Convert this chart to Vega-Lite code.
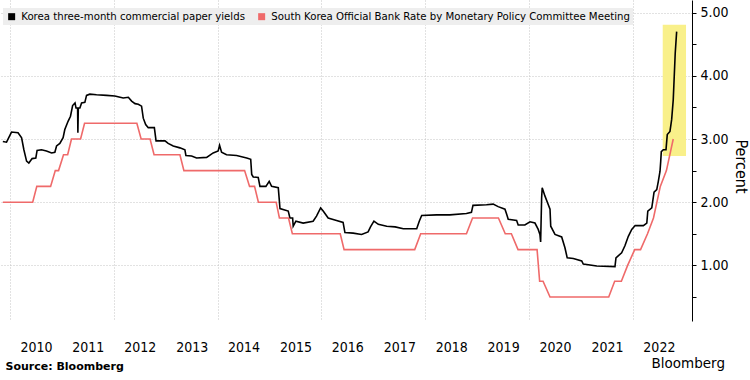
{
  "$schema": "https://vega.github.io/schema/vega-lite/v6.json",
  "width": 692,
  "height": 321,
  "autosize": {"type": "none"},
  "padding": {"left": 0, "top": 0, "right": 58, "bottom": 59},
  "background": "white",
  "config": {
    "view": {"stroke": null},
    "font": "DejaVu Sans Condensed"
  },
  "title": {
    "text": "Bloomberg",
    "orient": "bottom",
    "anchor": "end",
    "frame": "group",
    "dx": 33,
    "offset": -14,
    "font": "DejaVu Sans",
    "fontSize": 13.5,
    "fontWeight": "normal",
    "color": "#000000"
  },
  "resolve": {"axis": {"y": "independent"}},
  "datasets": {
    "highlight": [
      {"start": "2022-07-30", "end": "2023-01-10", "low": 2.73, "high": 4.81}
    ],
    "rates": [
      {"date": "2009-11-12", "value": 2.96, "series": "Korea three-month commercial paper yields"},
      {"date": "2009-12-08", "value": 2.95, "series": "Korea three-month commercial paper yields"},
      {"date": "2010-01-12", "value": 3.11, "series": "Korea three-month commercial paper yields"},
      {"date": "2010-02-27", "value": 3.10, "series": "Korea three-month commercial paper yields"},
      {"date": "2010-03-24", "value": 3.02, "series": "Korea three-month commercial paper yields"},
      {"date": "2010-04-09", "value": 2.83, "series": "Korea three-month commercial paper yields"},
      {"date": "2010-04-28", "value": 2.65, "series": "Korea three-month commercial paper yields"},
      {"date": "2010-05-14", "value": 2.62, "series": "Korea three-month commercial paper yields"},
      {"date": "2010-06-06", "value": 2.69, "series": "Korea three-month commercial paper yields"},
      {"date": "2010-07-02", "value": 2.70, "series": "Korea three-month commercial paper yields"},
      {"date": "2010-07-11", "value": 2.82, "series": "Korea three-month commercial paper yields"},
      {"date": "2010-08-11", "value": 2.83, "series": "Korea three-month commercial paper yields"},
      {"date": "2010-09-15", "value": 2.81, "series": "Korea three-month commercial paper yields"},
      {"date": "2010-10-21", "value": 2.78, "series": "Korea three-month commercial paper yields"},
      {"date": "2010-11-13", "value": 2.79, "series": "Korea three-month commercial paper yields"},
      {"date": "2010-11-25", "value": 2.89, "series": "Korea three-month commercial paper yields"},
      {"date": "2010-12-18", "value": 2.93, "series": "Korea three-month commercial paper yields"},
      {"date": "2011-01-10", "value": 3.02, "series": "Korea three-month commercial paper yields"},
      {"date": "2011-01-22", "value": 3.15, "series": "Korea three-month commercial paper yields"},
      {"date": "2011-02-14", "value": 3.28, "series": "Korea three-month commercial paper yields"},
      {"date": "2011-03-03", "value": 3.36, "series": "Korea three-month commercial paper yields"},
      {"date": "2011-03-18", "value": 3.53, "series": "Korea three-month commercial paper yields"},
      {"date": "2011-04-04", "value": 3.57, "series": "Korea three-month commercial paper yields"},
      {"date": "2011-04-11", "value": 3.49, "series": "Korea three-month commercial paper yields"},
      {"date": "2011-04-22", "value": 3.49, "series": "Korea three-month commercial paper yields"},
      {"date": "2011-04-24", "value": 3.10, "series": "Korea three-month commercial paper yields"},
      {"date": "2011-04-27", "value": 3.49, "series": "Korea three-month commercial paper yields"},
      {"date": "2011-05-08", "value": 3.49, "series": "Korea three-month commercial paper yields"},
      {"date": "2011-05-20", "value": 3.57, "series": "Korea three-month commercial paper yields"},
      {"date": "2011-06-12", "value": 3.58, "series": "Korea three-month commercial paper yields"},
      {"date": "2011-06-24", "value": 3.69, "series": "Korea three-month commercial paper yields"},
      {"date": "2011-07-17", "value": 3.71, "series": "Korea three-month commercial paper yields"},
      {"date": "2011-09-02", "value": 3.70, "series": "Korea three-month commercial paper yields"},
      {"date": "2011-11-12", "value": 3.69, "series": "Korea three-month commercial paper yields"},
      {"date": "2012-01-09", "value": 3.68, "series": "Korea three-month commercial paper yields"},
      {"date": "2012-03-08", "value": 3.65, "series": "Korea three-month commercial paper yields"},
      {"date": "2012-04-13", "value": 3.66, "series": "Korea three-month commercial paper yields"},
      {"date": "2012-05-06", "value": 3.60, "series": "Korea three-month commercial paper yields"},
      {"date": "2012-05-30", "value": 3.56, "series": "Korea three-month commercial paper yields"},
      {"date": "2012-06-22", "value": 3.55, "series": "Korea three-month commercial paper yields"},
      {"date": "2012-07-15", "value": 3.52, "series": "Korea three-month commercial paper yields"},
      {"date": "2012-07-27", "value": 3.33, "series": "Korea three-month commercial paper yields"},
      {"date": "2012-08-13", "value": 3.23, "series": "Korea three-month commercial paper yields"},
      {"date": "2012-08-31", "value": 3.18, "series": "Korea three-month commercial paper yields"},
      {"date": "2012-10-13", "value": 3.18, "series": "Korea three-month commercial paper yields"},
      {"date": "2012-10-25", "value": 2.97, "series": "Korea three-month commercial paper yields"},
      {"date": "2012-12-27", "value": 2.97, "series": "Korea three-month commercial paper yields"},
      {"date": "2013-01-18", "value": 2.93, "series": "Korea three-month commercial paper yields"},
      {"date": "2013-02-23", "value": 2.89, "series": "Korea three-month commercial paper yields"},
      {"date": "2013-04-11", "value": 2.86, "series": "Korea three-month commercial paper yields"},
      {"date": "2013-05-16", "value": 2.83, "series": "Korea three-month commercial paper yields"},
      {"date": "2013-05-23", "value": 2.74, "series": "Korea three-month commercial paper yields"},
      {"date": "2013-07-02", "value": 2.73, "series": "Korea three-month commercial paper yields"},
      {"date": "2013-08-06", "value": 2.70, "series": "Korea three-month commercial paper yields"},
      {"date": "2013-10-16", "value": 2.71, "series": "Korea three-month commercial paper yields"},
      {"date": "2013-12-01", "value": 2.78, "series": "Korea three-month commercial paper yields"},
      {"date": "2014-01-05", "value": 2.81, "series": "Korea three-month commercial paper yields"},
      {"date": "2014-01-15", "value": 2.90, "series": "Korea three-month commercial paper yields"},
      {"date": "2014-01-29", "value": 2.79, "series": "Korea three-month commercial paper yields"},
      {"date": "2014-03-05", "value": 2.75, "series": "Korea three-month commercial paper yields"},
      {"date": "2014-05-15", "value": 2.74, "series": "Korea three-month commercial paper yields"},
      {"date": "2014-07-25", "value": 2.70, "series": "Korea three-month commercial paper yields"},
      {"date": "2014-08-22", "value": 2.68, "series": "Korea three-month commercial paper yields"},
      {"date": "2014-08-29", "value": 2.44, "series": "Korea three-month commercial paper yields"},
      {"date": "2014-09-09", "value": 2.40, "series": "Korea three-month commercial paper yields"},
      {"date": "2014-10-14", "value": 2.39, "series": "Korea three-month commercial paper yields"},
      {"date": "2014-10-26", "value": 2.25, "series": "Korea three-month commercial paper yields"},
      {"date": "2014-12-07", "value": 2.25, "series": "Korea three-month commercial paper yields"},
      {"date": "2014-12-30", "value": 2.33, "series": "Korea three-month commercial paper yields"},
      {"date": "2015-01-16", "value": 2.25, "series": "Korea three-month commercial paper yields"},
      {"date": "2015-03-04", "value": 2.23, "series": "Korea three-month commercial paper yields"},
      {"date": "2015-03-16", "value": 1.90, "series": "Korea three-month commercial paper yields"},
      {"date": "2015-05-13", "value": 1.86, "series": "Korea three-month commercial paper yields"},
      {"date": "2015-05-25", "value": 1.75, "series": "Korea three-month commercial paper yields"},
      {"date": "2015-06-13", "value": 1.75, "series": "Korea three-month commercial paper yields"},
      {"date": "2015-06-17", "value": 1.62, "series": "Korea three-month commercial paper yields"},
      {"date": "2015-07-06", "value": 1.70, "series": "Korea three-month commercial paper yields"},
      {"date": "2015-08-26", "value": 1.67, "series": "Korea three-month commercial paper yields"},
      {"date": "2015-11-04", "value": 1.70, "series": "Korea three-month commercial paper yields"},
      {"date": "2015-11-28", "value": 1.78, "series": "Korea three-month commercial paper yields"},
      {"date": "2015-12-27", "value": 1.91, "series": "Korea three-month commercial paper yields"},
      {"date": "2016-01-14", "value": 1.86, "series": "Korea three-month commercial paper yields"},
      {"date": "2016-02-18", "value": 1.75, "series": "Korea three-month commercial paper yields"},
      {"date": "2016-04-05", "value": 1.72, "series": "Korea three-month commercial paper yields"},
      {"date": "2016-06-02", "value": 1.68, "series": "Korea three-month commercial paper yields"},
      {"date": "2016-06-15", "value": 1.52, "series": "Korea three-month commercial paper yields"},
      {"date": "2016-08-12", "value": 1.51, "series": "Korea three-month commercial paper yields"},
      {"date": "2016-10-10", "value": 1.49, "series": "Korea three-month commercial paper yields"},
      {"date": "2016-11-25", "value": 1.53, "series": "Korea three-month commercial paper yields"},
      {"date": "2016-12-12", "value": 1.61, "series": "Korea three-month commercial paper yields"},
      {"date": "2017-01-05", "value": 1.70, "series": "Korea three-month commercial paper yields"},
      {"date": "2017-02-05", "value": 1.65, "series": "Korea three-month commercial paper yields"},
      {"date": "2017-04-05", "value": 1.62, "series": "Korea three-month commercial paper yields"},
      {"date": "2017-06-03", "value": 1.61, "series": "Korea three-month commercial paper yields"},
      {"date": "2017-07-31", "value": 1.58, "series": "Korea three-month commercial paper yields"},
      {"date": "2017-11-02", "value": 1.58, "series": "Korea three-month commercial paper yields"},
      {"date": "2017-11-20", "value": 1.70, "series": "Korea three-month commercial paper yields"},
      {"date": "2017-12-07", "value": 1.79, "series": "Korea three-month commercial paper yields"},
      {"date": "2018-03-22", "value": 1.80, "series": "Korea three-month commercial paper yields"},
      {"date": "2018-06-23", "value": 1.80, "series": "Korea three-month commercial paper yields"},
      {"date": "2018-10-18", "value": 1.82, "series": "Korea three-month commercial paper yields"},
      {"date": "2018-11-22", "value": 1.84, "series": "Korea three-month commercial paper yields"},
      {"date": "2018-12-03", "value": 1.95, "series": "Korea three-month commercial paper yields"},
      {"date": "2019-03-08", "value": 1.96, "series": "Korea three-month commercial paper yields"},
      {"date": "2019-04-24", "value": 1.97, "series": "Korea three-month commercial paper yields"},
      {"date": "2019-05-29", "value": 1.93, "series": "Korea three-month commercial paper yields"},
      {"date": "2019-07-16", "value": 1.89, "series": "Korea three-month commercial paper yields"},
      {"date": "2019-07-28", "value": 1.81, "series": "Korea three-month commercial paper yields"},
      {"date": "2019-08-08", "value": 1.73, "series": "Korea three-month commercial paper yields"},
      {"date": "2019-10-06", "value": 1.71, "series": "Korea three-month commercial paper yields"},
      {"date": "2019-10-17", "value": 1.64, "series": "Korea three-month commercial paper yields"},
      {"date": "2019-12-03", "value": 1.64, "series": "Korea three-month commercial paper yields"},
      {"date": "2020-01-08", "value": 1.69, "series": "Korea three-month commercial paper yields"},
      {"date": "2020-02-12", "value": 1.67, "series": "Korea three-month commercial paper yields"},
      {"date": "2020-03-06", "value": 1.57, "series": "Korea three-month commercial paper yields"},
      {"date": "2020-03-18", "value": 1.49, "series": "Korea three-month commercial paper yields"},
      {"date": "2020-03-23", "value": 1.37, "series": "Korea three-month commercial paper yields"},
      {"date": "2020-03-30", "value": 2.07, "series": "Korea three-month commercial paper yields"},
      {"date": "2020-04-03", "value": 2.23, "series": "Korea three-month commercial paper yields"},
      {"date": "2020-04-22", "value": 2.10, "series": "Korea three-month commercial paper yields"},
      {"date": "2020-05-16", "value": 1.96, "series": "Korea three-month commercial paper yields"},
      {"date": "2020-05-28", "value": 1.89, "series": "Korea three-month commercial paper yields"},
      {"date": "2020-06-02", "value": 1.62, "series": "Korea three-month commercial paper yields"},
      {"date": "2020-07-02", "value": 1.49, "series": "Korea three-month commercial paper yields"},
      {"date": "2020-08-18", "value": 1.45, "series": "Korea three-month commercial paper yields"},
      {"date": "2020-09-10", "value": 1.28, "series": "Korea three-month commercial paper yields"},
      {"date": "2020-09-26", "value": 1.12, "series": "Korea three-month commercial paper yields"},
      {"date": "2020-11-08", "value": 1.11, "series": "Korea three-month commercial paper yields"},
      {"date": "2021-01-06", "value": 1.07, "series": "Korea three-month commercial paper yields"},
      {"date": "2021-01-17", "value": 1.02, "series": "Korea three-month commercial paper yields"},
      {"date": "2021-04-22", "value": 0.99, "series": "Korea three-month commercial paper yields"},
      {"date": "2021-08-28", "value": 0.98, "series": "Korea three-month commercial paper yields"},
      {"date": "2021-09-04", "value": 1.12, "series": "Korea three-month commercial paper yields"},
      {"date": "2021-10-14", "value": 1.20, "series": "Korea three-month commercial paper yields"},
      {"date": "2021-11-06", "value": 1.31, "series": "Korea three-month commercial paper yields"},
      {"date": "2021-11-30", "value": 1.46, "series": "Korea three-month commercial paper yields"},
      {"date": "2021-12-24", "value": 1.57, "series": "Korea three-month commercial paper yields"},
      {"date": "2022-01-17", "value": 1.63, "series": "Korea three-month commercial paper yields"},
      {"date": "2022-03-16", "value": 1.63, "series": "Korea three-month commercial paper yields"},
      {"date": "2022-04-09", "value": 1.67, "series": "Korea three-month commercial paper yields"},
      {"date": "2022-04-16", "value": 1.86, "series": "Korea three-month commercial paper yields"},
      {"date": "2022-05-14", "value": 1.91, "series": "Korea three-month commercial paper yields"},
      {"date": "2022-05-30", "value": 2.16, "series": "Korea three-month commercial paper yields"},
      {"date": "2022-06-18", "value": 2.20, "series": "Korea three-month commercial paper yields"},
      {"date": "2022-06-29", "value": 2.33, "series": "Korea three-month commercial paper yields"},
      {"date": "2022-07-11", "value": 2.49, "series": "Korea three-month commercial paper yields"},
      {"date": "2022-07-16", "value": 2.65, "series": "Korea three-month commercial paper yields"},
      {"date": "2022-07-20", "value": 2.80, "series": "Korea three-month commercial paper yields"},
      {"date": "2022-08-03", "value": 2.83, "series": "Korea three-month commercial paper yields"},
      {"date": "2022-08-22", "value": 2.83, "series": "Korea three-month commercial paper yields"},
      {"date": "2022-08-31", "value": 3.07, "series": "Korea three-month commercial paper yields"},
      {"date": "2022-09-19", "value": 3.12, "series": "Korea three-month commercial paper yields"},
      {"date": "2022-10-01", "value": 3.31, "series": "Korea three-month commercial paper yields"},
      {"date": "2022-10-12", "value": 3.62, "series": "Korea three-month commercial paper yields"},
      {"date": "2022-10-19", "value": 3.99, "series": "Korea three-month commercial paper yields"},
      {"date": "2022-10-26", "value": 4.36, "series": "Korea three-month commercial paper yields"},
      {"date": "2022-11-05", "value": 4.70, "series": "Korea three-month commercial paper yields"},
      {"date": "2009-11-12", "value": 2.00, "series": "South Korea Official Bank Rate by Monetary Policy Committee Meeting"},
      {"date": "2010-06-10", "value": 2.00, "series": "South Korea Official Bank Rate by Monetary Policy Committee Meeting"},
      {"date": "2010-07-09", "value": 2.25, "series": "South Korea Official Bank Rate by Monetary Policy Committee Meeting"},
      {"date": "2010-10-14", "value": 2.25, "series": "South Korea Official Bank Rate by Monetary Policy Committee Meeting"},
      {"date": "2010-11-16", "value": 2.50, "series": "South Korea Official Bank Rate by Monetary Policy Committee Meeting"},
      {"date": "2010-12-09", "value": 2.50, "series": "South Korea Official Bank Rate by Monetary Policy Committee Meeting"},
      {"date": "2011-01-13", "value": 2.75, "series": "South Korea Official Bank Rate by Monetary Policy Committee Meeting"},
      {"date": "2011-02-11", "value": 2.75, "series": "South Korea Official Bank Rate by Monetary Policy Committee Meeting"},
      {"date": "2011-03-10", "value": 3.00, "series": "South Korea Official Bank Rate by Monetary Policy Committee Meeting"},
      {"date": "2011-05-13", "value": 3.00, "series": "South Korea Official Bank Rate by Monetary Policy Committee Meeting"},
      {"date": "2011-06-10", "value": 3.25, "series": "South Korea Official Bank Rate by Monetary Policy Committee Meeting"},
      {"date": "2012-06-12", "value": 3.25, "series": "South Korea Official Bank Rate by Monetary Policy Committee Meeting"},
      {"date": "2012-07-12", "value": 3.00, "series": "South Korea Official Bank Rate by Monetary Policy Committee Meeting"},
      {"date": "2012-09-13", "value": 3.00, "series": "South Korea Official Bank Rate by Monetary Policy Committee Meeting"},
      {"date": "2012-10-11", "value": 2.75, "series": "South Korea Official Bank Rate by Monetary Policy Committee Meeting"},
      {"date": "2013-04-11", "value": 2.75, "series": "South Korea Official Bank Rate by Monetary Policy Committee Meeting"},
      {"date": "2013-05-09", "value": 2.50, "series": "South Korea Official Bank Rate by Monetary Policy Committee Meeting"},
      {"date": "2014-07-10", "value": 2.50, "series": "South Korea Official Bank Rate by Monetary Policy Committee Meeting"},
      {"date": "2014-08-14", "value": 2.25, "series": "South Korea Official Bank Rate by Monetary Policy Committee Meeting"},
      {"date": "2014-09-18", "value": 2.25, "series": "South Korea Official Bank Rate by Monetary Policy Committee Meeting"},
      {"date": "2014-10-15", "value": 2.00, "series": "South Korea Official Bank Rate by Monetary Policy Committee Meeting"},
      {"date": "2015-02-17", "value": 2.00, "series": "South Korea Official Bank Rate by Monetary Policy Committee Meeting"},
      {"date": "2015-03-12", "value": 1.75, "series": "South Korea Official Bank Rate by Monetary Policy Committee Meeting"},
      {"date": "2015-05-15", "value": 1.75, "series": "South Korea Official Bank Rate by Monetary Policy Committee Meeting"},
      {"date": "2015-06-11", "value": 1.50, "series": "South Korea Official Bank Rate by Monetary Policy Committee Meeting"},
      {"date": "2016-05-13", "value": 1.50, "series": "South Korea Official Bank Rate by Monetary Policy Committee Meeting"},
      {"date": "2016-06-09", "value": 1.25, "series": "South Korea Official Bank Rate by Monetary Policy Committee Meeting"},
      {"date": "2017-10-19", "value": 1.25, "series": "South Korea Official Bank Rate by Monetary Policy Committee Meeting"},
      {"date": "2017-11-30", "value": 1.50, "series": "South Korea Official Bank Rate by Monetary Policy Committee Meeting"},
      {"date": "2018-10-18", "value": 1.50, "series": "South Korea Official Bank Rate by Monetary Policy Committee Meeting"},
      {"date": "2018-11-30", "value": 1.75, "series": "South Korea Official Bank Rate by Monetary Policy Committee Meeting"},
      {"date": "2019-05-31", "value": 1.75, "series": "South Korea Official Bank Rate by Monetary Policy Committee Meeting"},
      {"date": "2019-07-18", "value": 1.50, "series": "South Korea Official Bank Rate by Monetary Policy Committee Meeting"},
      {"date": "2019-08-30", "value": 1.50, "series": "South Korea Official Bank Rate by Monetary Policy Committee Meeting"},
      {"date": "2019-10-16", "value": 1.25, "series": "South Korea Official Bank Rate by Monetary Policy Committee Meeting"},
      {"date": "2020-02-27", "value": 1.25, "series": "South Korea Official Bank Rate by Monetary Policy Committee Meeting"},
      {"date": "2020-03-16", "value": 0.75, "series": "South Korea Official Bank Rate by Monetary Policy Committee Meeting"},
      {"date": "2020-04-09", "value": 0.75, "series": "South Korea Official Bank Rate by Monetary Policy Committee Meeting"},
      {"date": "2020-05-28", "value": 0.50, "series": "South Korea Official Bank Rate by Monetary Policy Committee Meeting"},
      {"date": "2021-07-15", "value": 0.50, "series": "South Korea Official Bank Rate by Monetary Policy Committee Meeting"},
      {"date": "2021-08-26", "value": 0.75, "series": "South Korea Official Bank Rate by Monetary Policy Committee Meeting"},
      {"date": "2021-10-12", "value": 0.75, "series": "South Korea Official Bank Rate by Monetary Policy Committee Meeting"},
      {"date": "2021-11-25", "value": 1.00, "series": "South Korea Official Bank Rate by Monetary Policy Committee Meeting"},
      {"date": "2022-01-14", "value": 1.25, "series": "South Korea Official Bank Rate by Monetary Policy Committee Meeting"},
      {"date": "2022-02-24", "value": 1.25, "series": "South Korea Official Bank Rate by Monetary Policy Committee Meeting"},
      {"date": "2022-04-14", "value": 1.50, "series": "South Korea Official Bank Rate by Monetary Policy Committee Meeting"},
      {"date": "2022-05-26", "value": 1.75, "series": "South Korea Official Bank Rate by Monetary Policy Committee Meeting"},
      {"date": "2022-07-13", "value": 2.25, "series": "South Korea Official Bank Rate by Monetary Policy Committee Meeting"},
      {"date": "2022-08-25", "value": 2.50, "series": "South Korea Official Bank Rate by Monetary Policy Committee Meeting"},
      {"date": "2022-10-12", "value": 3.00, "series": "South Korea Official Bank Rate by Monetary Policy Committee Meeting"}
    ]
  },
  "layer": [
    {
      "data": {"name": "highlight"},
      "mark": {"type": "rect", "color": "#f9f08a", "opacity": 1},
      "encoding": {
        "x": {"field": "start", "type": "temporal"},
        "x2": {"field": "end"},
        "y": {
          "field": "low",
          "type": "quantitative",
          "axis": {
            "orient": "right",
            "values": [0.5, 1.5, 2.5, 3.5, 4.5],
            "labels": false,
            "grid": false,
            "domain": false,
            "ticks": true,
            "tickSize": 4,
            "tickColor": "#000000",
            "title": null
          }
        },
        "y2": {"field": "high"}
      }
    },
    {
      "data": {"name": "rates"},
      "mark": {"type": "line", "strokeWidth": 1.6, "interpolate": "linear"},
      "encoding": {
        "x": {
          "field": "date",
          "type": "temporal",
          "scale": {
            "domain": [
              {"year": 2009, "month": 10, "date": 23},
              {"year": 2023, "month": 2, "date": 21}
            ]
          },
          "axis": {
            "values": [
              {"year": 2010, "month": 1, "date": 1},
              {"year": 2011, "month": 1, "date": 1},
              {"year": 2012, "month": 1, "date": 1},
              {"year": 2013, "month": 1, "date": 1},
              {"year": 2014, "month": 1, "date": 1},
              {"year": 2015, "month": 1, "date": 1},
              {"year": 2016, "month": 1, "date": 1},
              {"year": 2017, "month": 1, "date": 1},
              {"year": 2018, "month": 1, "date": 1},
              {"year": 2019, "month": 1, "date": 1},
              {"year": 2020, "month": 1, "date": 1},
              {"year": 2021, "month": 1, "date": 1},
              {"year": 2022, "month": 1, "date": 1}
            ],
            "format": "%Y",
            "labelOffset": 26,
            "labelPadding": 19,
            "labelFontSize": 14,
            "labelColor": "#000000",
            "labelFlush": false,
            "labelOverlap": false,
            "labelBound": false,
            "ticks": false,
            "domain": false,
            "grid": true,
            "gridColor": "#c4c4c4",
            "gridDash": [1, 2],
            "gridWidth": 1,
            "gridOpacity": {"condition": {"test": "year(datum.value) % 2 === 0", "value": 1}, "value": 0},
            "title": "Source: Bloomberg",
            "titleFont": "DejaVu Sans",
            "titleFontSize": 11,
            "titleFontWeight": "bold",
            "titleColor": "#000000",
            "titleAlign": "left",
            "titleBaseline": "alphabetic",
            "titleX": 5,
            "titleY": 48
          }
        },
        "y": {
          "field": "value",
          "type": "quantitative",
          "scale": {"domain": [0.12, 5.2], "nice": false, "zero": false},
          "axis": {
            "orient": "right",
            "values": [1, 2, 3, 4, 5],
            "format": ".2f",
            "labelFontSize": 14,
            "labelColor": "#000000",
            "labelPadding": 4,
            "labelFlush": false,
            "labelOverlap": false,
            "tickSize": 4,
            "tickColor": "#000000",
            "domain": true,
            "domainColor": "#000000",
            "domainWidth": 1,
            "grid": true,
            "gridColor": "#c4c4c4",
            "gridDash": [1, 2],
            "gridWidth": 1,
            "title": "Percent",
            "titleFontSize": 16,
            "titleFontWeight": "normal",
            "titleColor": "#000000",
            "titlePadding": 4,
            "titleY": 166
          }
        },
        "color": {
          "field": "series",
          "type": "nominal",
          "scale": {
            "domain": [
              "Korea three-month commercial paper yields",
              "South Korea Official Bank Rate by Monetary Policy Committee Meeting"
            ],
            "range": ["#000000", "#ef6a6a"]
          },
          "legend": {
            "orient": "none",
            "legendX": 3,
            "legendY": 8,
            "direction": "horizontal",
            "title": null,
            "fillColor": "#eeeeee",
            "padding": 3,
            "symbolType": "square",
            "symbolSize": 49,
            "labelFontSize": 11.3,
            "labelColor": "#000000",
            "labelLimit": 0,
            "labelOffset": 4,
            "columnPadding": 11,
            "encode": {
              "symbols": {
                "update": {
                  "fill": {"scale": "color", "field": "value"},
                  "strokeWidth": {"value": 0}
                }
              }
            }
          }
        }
      }
    }
  ]
}
